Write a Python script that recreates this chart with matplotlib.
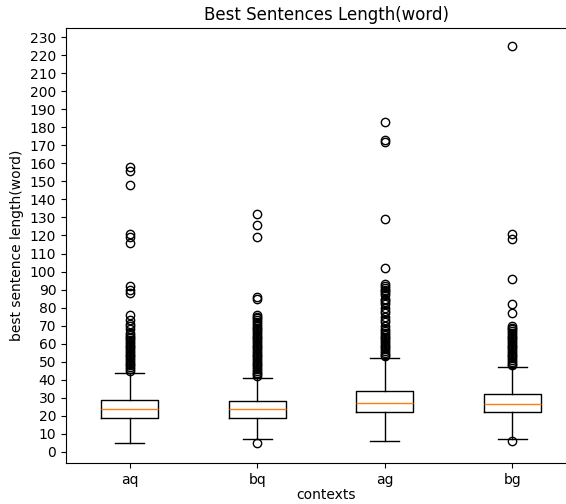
import matplotlib
matplotlib.use("Agg")
import matplotlib.pyplot as plt

categories = ["aq", "bq", "ag", "bg"]
q1 = [19, 19, 22, 22]
medians = [24, 24, 27, 26.5]
q3 = [29, 28, 34, 32]
whisker_low = [5, 7, 6, 7]
whisker_high = [44, 41, 52, 47]

fliers_aq = [45, 46, 47, 48, 49, 50, 51, 52, 53, 54, 55, 56, 57, 58, 59, 60, 61, 62,
             63, 64, 65, 66, 68, 70, 71, 73, 76, 88, 90, 92, 116, 119, 121, 148, 156, 158]
fliers_bq = [5, 42, 43, 44, 45, 46, 47, 48, 49, 50, 51, 52, 53, 54, 55, 56, 57, 58, 59,
             60, 61, 62, 63, 64, 65, 66, 67, 68, 69, 70, 71, 72, 73, 74, 75, 76,
             85, 86, 119, 126, 132]
fliers_ag = [53, 54, 55, 56, 57, 58, 59, 60, 61, 62, 63, 64, 65, 66, 67, 68, 70, 72, 73,
             75, 77, 78, 80, 82, 83, 84, 85, 87, 88, 89, 90, 91, 92, 93, 102, 129,
             172, 173, 183]
fliers_bg = [6, 48, 49, 50, 51, 52, 53, 54, 55, 56, 57, 58, 59, 60, 61, 62, 63, 64, 65,
             66, 67, 68, 69, 70, 77, 82, 96, 118, 121, 225]
fliers = [fliers_aq, fliers_bq, fliers_ag, fliers_bg]

yticks = list(range(0, 231, 10))

stats = []
for i, name in enumerate(categories):
    stats.append(dict(label=name, q1=q1[i], med=medians[i], q3=q3[i],
                      whislo=whisker_low[i], whishi=whisker_high[i], fliers=fliers[i]))

fig = plt.figure(figsize=(5.66, 5.04), dpi=100)
ax = fig.add_axes([66 / 566, 1 - 463 / 504, 520 / 566, (463 - 28) / 504])
ax.bxp(stats, showfliers=True)
ax.set_xlim(0.5, 4.5 + 10 / 127.5)
ax.set_ylim(-6.1, 235.0)
ax.set_yticks(yticks)
ax.spines["right"].set_visible(False)
ax.set_title("Best Sentences Length(word)")
ax.set_xlabel("contexts", labelpad=1)
ax.set_ylabel("best sentence length(word)")
fig.savefig("out.png", dpi=100)
